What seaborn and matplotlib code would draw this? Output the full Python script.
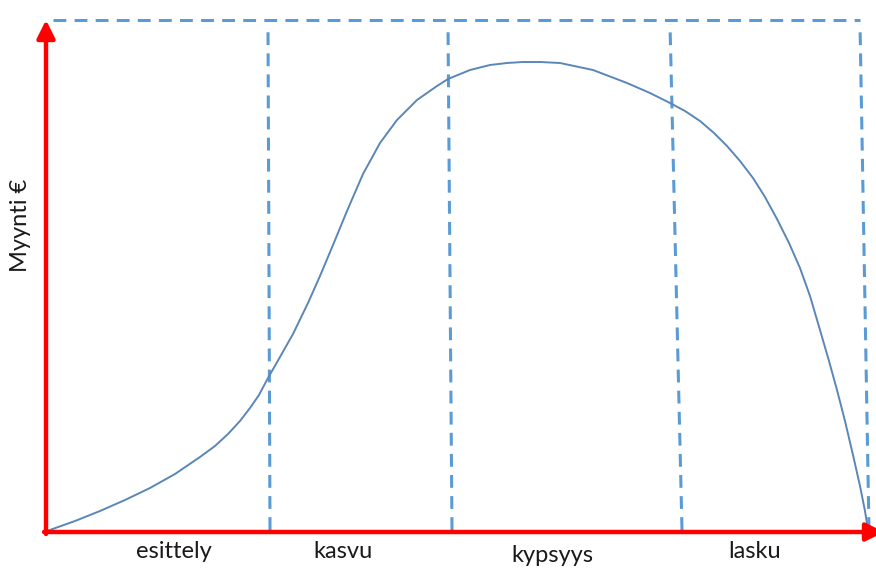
import matplotlib
matplotlib.use("Agg")
import matplotlib.pyplot as plt
import seaborn as sns
import pandas as pd

# Product life cycle: time (x) vs. sales (y), in drawing units
time = [1, 29, 54, 79, 104, 129, 154, 169, 182, 194, 204, 213, 222, 234, 247,
        262, 274, 287, 301, 317, 334, 351, 371, 391, 402, 424, 444, 461, 477,
        494, 514, 547, 581, 604, 624, 639, 654, 668, 681, 694, 707, 719, 731,
        743, 754, 764, 774, 783, 791, 799, 807, 814, 819, 822]
sales = [1, 11, 21, 32, 44, 58, 75, 86, 98, 111, 124, 137, 154, 175, 198,
         229, 256, 287, 321, 358, 389, 412, 432, 446, 453, 462, 467, 469, 470,
         470, 469, 462, 449, 439, 429, 421, 411, 399, 386, 371, 354, 335, 313,
         289, 264, 236, 202, 171, 142, 111, 77, 46, 21, 2]

phase_names = ["esittely", "kasvu", "kypsyys", "lasku"]
phase_label_x = [128, 297, 506, 709]
phase_label_y = [-20, -20, -24, -20]
boundary_top = [222, 402, 624, 814]
boundary_bottom = [224, 406, 636, 823]
frame_top = 512
frame_left = 7
ylabel_text = "Myynti €"

sns.set_theme(style="white")
plt.rcParams["font.family"] = ["Lato", "DejaVu Sans"]

fig = plt.figure(figsize=(8.76, 5.68), dpi=100)
ax = fig.add_axes([0, 0, 1, 1])
ax.set_xlim(-46, 830)
ax.set_ylim(-36, 532)
ax.axis("off")

dash_color = "#5b9bd5"
dash_kw = dict(color=dash_color, lw=2.2, linestyle=(0, (4.2, 2.7)), zorder=2)

# phase boundaries and top frame
for xt, xb in zip(boundary_top, boundary_bottom):
    ax.plot([xb, xt], [2, frame_top - 4], **dash_kw)
ax.plot([frame_left, boundary_top[-1]], [frame_top, frame_top], **dash_kw)

# sales curve
df = pd.DataFrame({"time": time, "sales": sales})
sns.lineplot(data=df, x="time", y="sales", ax=ax, color="#5a86b8", lw=1.4,
             sort=False, estimator=None, zorder=3)
ax.lines[-1].set_solid_joinstyle("round")

# red axes with arrows
red = "#ff0000"
ax.annotate("", xy=(0, 512), xytext=(0, -2),
            arrowprops=dict(arrowstyle="-|>,head_length=0.9,head_width=0.45",
                            color=red, lw=3.2, shrinkA=0, shrinkB=0), zorder=4)
ax.annotate("", xy=(838, 0), xytext=(-2, 0),
            arrowprops=dict(arrowstyle="-|>,head_length=0.9,head_width=0.45",
                            color=red, lw=3.2, shrinkA=0, shrinkB=0), zorder=4,
            annotation_clip=False)

# phase labels
for name, lx, ly in zip(phase_names, phase_label_x, phase_label_y):
    ax.text(lx, ly, name, ha="center", va="center", fontsize=17, color="#1a1a1a")

ax.text(-25, 307, ylabel_text, rotation=90, ha="center", va="center",
        fontsize=17, color="#1a1a1a")

fig.savefig("out.png", dpi=100)
